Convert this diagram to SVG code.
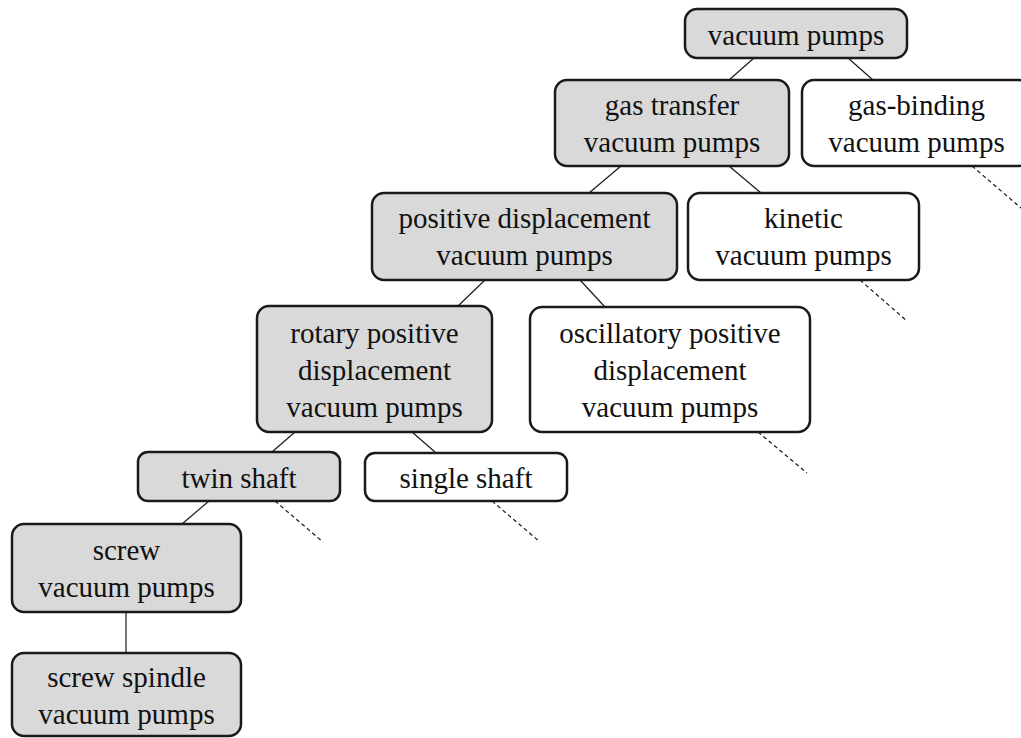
<svg xmlns="http://www.w3.org/2000/svg" width="1021" height="738" viewBox="0 0 1021 738">
<style>
.box{stroke:#1a1a1a;stroke-width:2.5}
.g{fill:#d9d9d9}
.w{fill:#ffffff}
.t{font-family:"Liberation Serif","Times New Roman",serif;font-size:29px;fill:#111;text-anchor:middle}
.c{stroke:#1a1a1a;stroke-width:1.2;fill:none}
.d{stroke:#1a1a1a;stroke-width:1.2;fill:none;stroke-dasharray:4 3}
</style>
<rect width="1021" height="738" fill="#ffffff"/>
<g id="connectors">
<line class="c" x1="754" y1="58" x2="729" y2="80"/>
<line class="c" x1="848" y1="58" x2="873" y2="80"/>
<line class="c" x1="621" y1="166" x2="589" y2="193"/>
<line class="c" x1="729" y1="166" x2="761" y2="193"/>
<line class="c" x1="485" y1="280" x2="457" y2="307"/>
<line class="c" x1="580" y1="280" x2="605" y2="307"/>
<line class="c" x1="295" y1="432" x2="272" y2="452"/>
<line class="c" x1="412" y1="432" x2="435" y2="452"/>
<line class="c" x1="209" y1="501" x2="182" y2="524"/>
<line class="c" x1="126" y1="612" x2="126" y2="653"/>
<line class="d" x1="972" y1="166" x2="1021" y2="208"/>
<line class="d" x1="860" y1="280" x2="907" y2="321"/>
<line class="d" x1="758" y1="432" x2="807" y2="473"/>
<line class="d" x1="492" y1="501" x2="540" y2="542"/>
<line class="d" x1="275" y1="501" x2="323" y2="542"/>
</g>
<g id="vacuum-pumps">
<rect class="box g" x="685" y="9" width="222" height="49" rx="12"/>
<text class="t" x="796" y="44.5">vacuum pumps</text>
</g>
<g id="gas-transfer">
<rect class="box g" x="555" y="80" width="234" height="86" rx="12"/>
<text class="t" x="672" y="115">gas transfer</text>
<text class="t" x="672" y="152">vacuum pumps</text>
</g>
<g id="gas-binding">
<rect class="box w" x="802" y="80" width="229" height="86" rx="12"/>
<text class="t" x="916.5" y="115">gas-binding</text>
<text class="t" x="916.5" y="152">vacuum pumps</text>
</g>
<g id="positive-displacement">
<rect class="box g" x="372" y="193" width="305" height="87" rx="12"/>
<text class="t" x="524.5" y="228">positive displacement</text>
<text class="t" x="524.5" y="265">vacuum pumps</text>
</g>
<g id="kinetic">
<rect class="box w" x="688" y="193" width="231" height="87" rx="12"/>
<text class="t" x="803.5" y="228">kinetic</text>
<text class="t" x="803.5" y="265">vacuum pumps</text>
</g>
<g id="rotary">
<rect class="box g" x="257" y="306" width="235" height="126" rx="12"/>
<text class="t" x="374.5" y="342.5">rotary positive</text>
<text class="t" x="374.5" y="379.5">displacement</text>
<text class="t" x="374.5" y="416.5">vacuum pumps</text>
</g>
<g id="oscillatory">
<rect class="box w" x="530" y="307" width="280" height="125" rx="12"/>
<text class="t" x="670" y="342.5">oscillatory positive</text>
<text class="t" x="670" y="379.5">displacement</text>
<text class="t" x="670" y="416.5">vacuum pumps</text>
</g>
<g id="twin-shaft">
<rect class="box g" x="138" y="452" width="202" height="49" rx="10"/>
<text class="t" x="239" y="487.5">twin shaft</text>
</g>
<g id="single-shaft">
<rect class="box w" x="365" y="453" width="202" height="48" rx="10"/>
<text class="t" x="466" y="487.5">single shaft</text>
</g>
<g id="screw">
<rect class="box g" x="12" y="524" width="229" height="88" rx="12"/>
<text class="t" x="126.5" y="560">screw</text>
<text class="t" x="126.5" y="597">vacuum pumps</text>
</g>
<g id="screw-spindle">
<rect class="box g" x="12" y="653" width="229" height="83" rx="12"/>
<text class="t" x="126.5" y="686.5">screw spindle</text>
<text class="t" x="126.5" y="723.5">vacuum pumps</text>
</g>
</svg>
